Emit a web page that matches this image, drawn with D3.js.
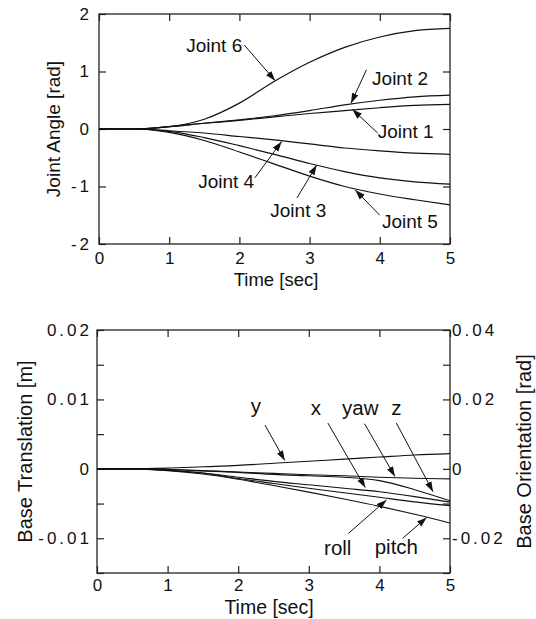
<!DOCTYPE html>
<html>
<head>
<meta charset="utf-8">
<script src="https://cdn.jsdelivr.net/npm/d3@7"></script>
<style>
body { margin: 0; background: #fff; }
svg text { font-family: "Liberation Sans", Arial, sans-serif; fill: #111; }
</style>
</head>
<body>
<script>
const WIDTH = 536
const HEIGHT = 619

// Temps [sec]
const time = [0, 0.5, 1, 1.5, 2, 2.5, 3, 3.5, 4, 4.5, 5]

// Angles articulaires [rad]
const joint1 = [0, 0, 0.04, 0.1, 0.15, 0.21, 0.27, 0.32, 0.37, 0.41, 0.43]
const joint2 = [0, 0, 0.04, 0.1, 0.16, 0.23, 0.32, 0.42, 0.5, 0.56, 0.59]
const joint3 = [0, 0, -0.04, -0.15, -0.29, -0.44, -0.6, -0.74, -0.85, -0.92, -0.96]
const joint4 = [0, 0, -0.03, -0.07, -0.13, -0.19, -0.26, -0.33, -0.38, -0.42, -0.44]
const joint5 = [0, 0, -0.06, -0.2, -0.4, -0.61, -0.82, -1.0, -1.13, -1.23, -1.32]
const joint6 = [0, 0, 0.04, 0.17, 0.45, 0.83, 1.16, 1.42, 1.6, 1.71, 1.75]

// Translation de la base [m]
const baseX = [0, 0, -0.0002, -0.0006, -0.0012, -0.0018, -0.0023, -0.0028, -0.0033, -0.004, -0.0048]
const baseY = [0, 0, 0.0001, 0.0003, 0.0005, 0.0008, 0.0011, 0.0014, 0.0017, 0.002, 0.0022]
const baseZ = [0, 0, -0.0001, -0.0003, -0.0005, -0.0008, -0.001, -0.0012, -0.0017, -0.003, -0.0046]

// Orientation de la base [rad]
const roll = [0, 0, -0.0004, -0.0012, -0.0028, -0.0042, -0.0056, -0.0069, -0.0082, -0.0095, -0.0106]
const pitch = [0, 0, -0.0005, -0.0015, -0.003, -0.0048, -0.0067, -0.0087, -0.0108, -0.0131, -0.0156]
const yaw = [0, 0, -0.0002, -0.0005, -0.0009, -0.0013, -0.0017, -0.002, -0.0024, -0.0027, -0.0029]

// Graduations
const timeTicks = [0, 1, 2, 3, 4, 5]
const angleTicks = [-2, -1, 0, 1, 2]
const transTicks = [-0.01, 0, 0.01, 0.02]
const transMinor = [-0.015, -0.01, -0.005, 0, 0.005, 0.01, 0.015, 0.02]
const orientTicks = [-0.02, 0, 0.02, 0.04]
const orientMinor = [-0.03, -0.02, -0.01, 0, 0.01, 0.02, 0.03, 0.04]

// Annotations (en unités des données)
const jointNotes = [
    { text: "Joint 6", tx: 2.04, ty: 1.34, anchor: "end", x1: 2.07, y1: 1.46, x2: 2.51, y2: 0.84 },
    { text: "Joint 2", tx: 3.89, ty: 0.77, anchor: "start", x1: 3.81, y1: 1.03, x2: 3.59, y2: 0.45 },
    { text: "Joint 1", tx: 3.97, ty: -0.16, anchor: "start", x1: 3.97, y1: -0.07, x2: 3.61, y2: 0.34 },
    { text: "Joint 4", tx: 2.21, ty: -1.03, anchor: "end", x1: 2.22, y1: -0.85, x2: 2.6, y2: -0.22 },
    { text: "Joint 3", tx: 2.44, ty: -1.53, anchor: "start", x1: 2.82, y1: -1.2, x2: 3.1, y2: -0.63 },
    { text: "Joint 5", tx: 4.03, ty: -1.72, anchor: "start", x1: 4.0, y1: -1.5, x2: 3.65, y2: -1.06 }
]
const baseNotes = [
    { text: "y", tx: 2.25, ty: 0.008, x1: 2.38, y1: 0.0063, x2: 2.66, y2: 0.0012 },
    { text: "x", tx: 3.1, ty: 0.0078, x1: 3.27, y1: 0.0066, x2: 3.8, y2: -0.0027 },
    { text: "yaw", tx: 3.73, ty: 0.0078, x1: 3.79, y1: 0.0065, x2: 4.22, y2: -0.0011 },
    { text: "z", tx: 4.24, ty: 0.0078, x1: 4.24, y1: 0.0066, x2: 4.76, y2: -0.0033 },
    { text: "roll", tx: 3.41, ty: -0.0124, x1: 3.56, y1: -0.0093, x2: 4.1, y2: -0.0045 },
    { text: "pitch", tx: 4.24, ty: -0.0123, x1: 4.33, y1: -0.01, x2: 4.67, y2: -0.007 }
]

// Libellés avec un tiret simple
const fmtInt = d => (d < 0 ? "-" : "") + Math.abs(d)
const fmtDec = d => d === 0 ? "0" : (d < 0 ? "-" : "") + Math.abs(d).toFixed(2)

const svg = d3.select("body").append("svg")
    .attr("width", WIDTH)
    .attr("height", HEIGHT)

// Pointe de flèche
svg.append("defs").append("marker")
    .attr("id", "head")
    .attr("markerUnits", "userSpaceOnUse")
    .attr("markerWidth", 11)
    .attr("markerHeight", 8)
    .attr("refX", 10)
    .attr("refY", 4)
    .attr("orient", "auto")
    .append("path")
    .attr("d", "M0,0.6 L10,4 L0,7.4 Z")
    .attr("fill", "#111")

function styleAxis(g, size) {
    g.select(".domain").remove()
    g.selectAll("line").attr("stroke", "#222").attr("stroke-width", 1.2)
    g.selectAll("text")
        .attr("font-family", "Liberation Sans, Arial, sans-serif")
        .attr("font-size", size)
        .attr("fill", "#111")
}

function drawFrame(g, box) {
    g.append("rect")
        .attr("x", box.left)
        .attr("y", box.top)
        .attr("width", box.right - box.left)
        .attr("height", box.bottom - box.top)
        .attr("fill", "none")
        .attr("stroke", "#222")
        .attr("stroke-width", 1.3)
}

function drawNotes(g, notes, x, y, size) {
    notes.forEach(n => {
        g.append("line")
            .attr("x1", x(n.x1)).attr("y1", y(n.y1))
            .attr("x2", x(n.x2)).attr("y2", y(n.y2))
            .attr("stroke", "#111")
            .attr("stroke-width", 1)
            .attr("marker-end", "url(#head)")
        g.append("text")
            .text(n.text)
            .attr("x", x(n.tx))
            .attr("y", y(n.ty))
            .attr("text-anchor", n.anchor || "middle")
            .attr("font-size", size)
    })
}

// ---------- Graphique du haut : angles ----------
const boxA = { left: 99, right: 450, top: 14, bottom: 244 }
const xA = d3.scaleLinear().domain([0, 5]).range([boxA.left, boxA.right])
const yA = d3.scaleLinear().domain([-2, 2]).range([boxA.bottom, boxA.top])
const gA = svg.append("g")

gA.append("g")
    .attr("transform", `translate(0,${boxA.bottom})`)
    .call(d3.axisBottom(xA).tickValues(timeTicks).tickSizeInner(-7).tickSizeOuter(0).tickPadding(8).tickFormat(fmtInt))
    .call(g => styleAxis(g, 17))
gA.append("g")
    .attr("transform", `translate(0,${boxA.top})`)
    .call(d3.axisTop(xA).tickValues(timeTicks).tickSizeInner(-7).tickSizeOuter(0).tickFormat(""))
    .call(g => styleAxis(g, 17))
gA.append("g")
    .attr("transform", `translate(${boxA.left},0)`)
    .call(d3.axisLeft(yA).tickValues(angleTicks).tickSizeInner(-7).tickSizeOuter(0).tickPadding(7).tickFormat(fmtInt))
    .call(g => styleAxis(g, 17))
    .call(g => g.selectAll("text").style("letter-spacing", "3px"))
gA.append("g")
    .attr("transform", `translate(${boxA.right},0)`)
    .call(d3.axisRight(yA).tickValues(angleTicks).tickSizeInner(-7).tickSizeOuter(0).tickFormat(""))
    .call(g => styleAxis(g, 17))
drawFrame(gA, boxA)

const lineA = d3.line()
    .x((d, i) => xA(time[i]))
    .y(d => yA(d))
    .curve(d3.curveMonotoneX)

gA.selectAll(".joint")
    .data([joint1, joint2, joint3, joint4, joint5, joint6])
    .enter()
    .append("path")
    .attr("class", "joint")
    .attr("d", lineA)
    .attr("fill", "none")
    .attr("stroke", "#111")
    .attr("stroke-width", 1.2)

drawNotes(gA, jointNotes, xA, yA, 19)

gA.append("text")
    .text("Time [sec]")
    .attr("x", 276)
    .attr("y", 286)
    .attr("text-anchor", "middle")
    .attr("font-size", 18.5)
gA.append("text")
    .text("Joint Angle [rad]")
    .attr("transform", `translate(60,${(boxA.top + boxA.bottom) / 2}) rotate(-90)`)
    .attr("text-anchor", "middle")
    .attr("font-size", 19)

// ---------- Graphique du bas : base ----------
const boxB = { left: 97, right: 450, top: 330, bottom: 573 }
const xB = d3.scaleLinear().domain([0, 5]).range([boxB.left, boxB.right])
const yB = d3.scaleLinear().domain([-0.015, 0.02]).range([boxB.bottom, boxB.top])
const yR = d3.scaleLinear().domain([-0.03, 0.04]).range([boxB.bottom, boxB.top])
const gB = svg.append("g")

gB.append("g")
    .attr("transform", `translate(0,${boxB.bottom})`)
    .call(d3.axisBottom(xB).tickValues(timeTicks).tickSizeInner(-7).tickSizeOuter(0).tickPadding(6).tickFormat(fmtInt))
    .call(g => styleAxis(g, 17))
gB.append("g")
    .attr("transform", `translate(0,${boxB.top})`)
    .call(d3.axisTop(xB).tickValues(timeTicks).tickSizeInner(-7).tickSizeOuter(0).tickFormat(""))
    .call(g => styleAxis(g, 17))
gB.append("g")
    .attr("transform", `translate(${boxB.left},0)`)
    .call(d3.axisLeft(yB).tickValues(transMinor).tickSizeInner(-7).tickSizeOuter(0).tickFormat(""))
    .call(g => styleAxis(g, 17))
gB.append("g")
    .attr("transform", `translate(${boxB.left},0)`)
    .call(d3.axisLeft(yB).tickValues(transTicks).tickSize(0).tickPadding(5).tickFormat(fmtDec))
    .call(g => styleAxis(g, 17))
    .call(g => g.selectAll("text").style("letter-spacing", "3px"))
gB.append("g")
    .attr("transform", `translate(${boxB.right},0)`)
    .call(d3.axisRight(yR).tickValues(orientMinor).tickSizeInner(-7).tickSizeOuter(0).tickFormat(""))
    .call(g => styleAxis(g, 17))
gB.append("g")
    .attr("transform", `translate(${boxB.right},0)`)
    .call(d3.axisRight(yR).tickValues(orientTicks).tickSize(0).tickPadding(2).tickFormat(fmtDec))
    .call(g => styleAxis(g, 17))
    .call(g => g.selectAll("text").style("letter-spacing", "3px"))
drawFrame(gB, boxB)

const lineT = d3.line()
    .x((d, i) => xB(time[i]))
    .y(d => yB(d))
    .curve(d3.curveMonotoneX)
const lineR = d3.line()
    .x((d, i) => xB(time[i]))
    .y(d => yR(d))
    .curve(d3.curveMonotoneX)

gB.selectAll(".trans")
    .data([baseX, baseY, baseZ])
    .enter()
    .append("path")
    .attr("class", "trans")
    .attr("d", lineT)
    .attr("fill", "none")
    .attr("stroke", "#111")
    .attr("stroke-width", 1.1)

gB.selectAll(".orient")
    .data([roll, pitch, yaw])
    .enter()
    .append("path")
    .attr("class", "orient")
    .attr("d", lineR)
    .attr("fill", "none")
    .attr("stroke", "#111")
    .attr("stroke-width", 1.1)

drawNotes(gB, baseNotes, xB, yB, 20.5)

gB.append("text")
    .text("Time [sec]")
    .attr("x", 269)
    .attr("y", 614)
    .attr("text-anchor", "middle")
    .attr("font-size", 19.5)
gB.append("text")
    .text("Base Translation [m]")
    .attr("transform", `translate(32,${(boxB.top + boxB.bottom) / 2}) rotate(-90)`)
    .attr("text-anchor", "middle")
    .attr("font-size", 20)
gB.append("text")
    .text("Base Orientation [rad]")
    .attr("transform", `translate(531,${(boxB.top + boxB.bottom) / 2}) rotate(-90)`)
    .attr("text-anchor", "middle")
    .attr("font-size", 20)
</script>
</body>
</html>
